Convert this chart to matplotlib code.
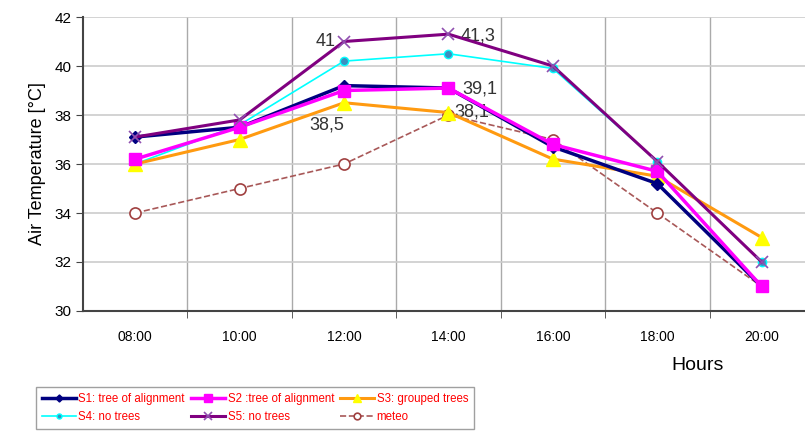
import numpy as np
import matplotlib
matplotlib.use("Agg")
import matplotlib.pyplot as plt

plt.rcParams['font.family'] = ['Liberation Sans', 'DejaVu Sans']

hours = ["08:00", "10:00", "12:00", "14:00", "16:00", "18:00", "20:00"]
s1 = [37.1, 37.5, 39.2, 39.1, 36.7, 35.2, 31.0]
s2 = [36.2, 37.5, 39.0, 39.1, 36.8, 35.7, 31.0]
s3 = [36.0, 37.0, 38.5, 38.1, 36.2, 35.5, 33.0]
s4 = [36.0, 37.6, 40.2, 40.5, 39.9, 36.1, 32.0]
s5 = [37.1, 37.8, 41.0, 41.3, 40.0, 36.1, 32.0]
meteo = [34.0, 35.0, 36.0, 38.0, 37.0, 34.0, 31.0]

x = np.arange(len(hours))

fig = plt.figure(figsize=(8.05, 4.36), dpi=100)
ax = fig.add_axes([0.1031, 0.2867, 0.908, 0.6743])

ax.plot(x, meteo, color='#a85858', ls='--', lw=1.2, marker='o', ms=8,
        mfc='white', mec='#a04040', mew=1.2, label='meteo', zorder=2)
ax.plot(x, s4, color='cyan', lw=1.2, marker='o', ms=6,
        mfc='#3a8fc0', mec='cyan', label='S4: no trees', zorder=3)
ax.plot(x, s3, color='#ff9a10', lw=2.2, marker='^', ms=10,
        mfc='yellow', mec='yellow', label='S3: grouped trees', zorder=4)
ax.plot(x, s1, color='#000080', lw=2.5, marker='D', ms=6,
        mfc='#000080', mec='#000080', label='S1: tree of alignment', zorder=5)
ax.plot(x, s2, color='magenta', lw=2.5, marker='s', ms=9,
        mfc='magenta', mec='magenta', label='S2 :tree of alignment', zorder=6)
ax.plot(x, s5, color='#800080', lw=2.2, marker='x', ms=9, mew=1.2,
        mec='#9050b0', label='S5: no trees', zorder=7)

# value labels
ax.annotate("41", (2, s5[2]), xytext=(-6, 0), textcoords='offset points',
            ha='right', va='center', fontsize=13, color='#333333')
ax.annotate("41,3", (3, s5[3]), xytext=(9, -1), textcoords='offset points',
            ha='left', va='center', fontsize=13, color='#333333')
ax.annotate("39,1", (3, s2[3]), xytext=(10, -1), textcoords='offset points',
            ha='left', va='center', fontsize=13, color='#333333')
ax.annotate("38,1", (3, meteo[3]), xytext=(4, 2), textcoords='offset points',
            ha='left', va='center', fontsize=13, color='#333333')
ax.annotate("38,5", (2, s3[2]), xytext=(0, -16), textcoords='offset points',
            ha='right', va='center', fontsize=13, color='#333333')

ax.set_xlim(-0.5, len(hours) - 0.5)
ax.set_ylim(30, 42)
ax.set_yticks(np.arange(30, 43, 2))
ax.set_xticks(x)
ax.set_xticklabels(hours, fontsize=10)
ax.set_xticks(np.arange(0.5, len(hours) - 0.5, 1), minor=True)
ax.tick_params(axis='x', which='major', length=0, pad=14)
ax.tick_params(axis='x', which='minor', length=5, color='#444444')
ax.tick_params(axis='y', labelsize=11, length=5, color='#444444')
ax.grid(axis='y', color='#cccccc', lw=1.2)
ax.grid(axis='x', which='minor', color='#aaaaaa', lw=1)
for side in ['top', 'right']:
    ax.spines[side].set_visible(False)
ax.spines['left'].set_color('#444444')
ax.spines['bottom'].set_color('#444444')
ax.spines['left'].set_linewidth(1.5)
ax.spines['bottom'].set_linewidth(1.5)

ax.set_ylabel("Air Temperature [°C]", fontsize=13, labelpad=6)
fig.text(698 / 805, 1 - 366 / 436, "Hours", fontsize=14, ha='center', va='center')

handles, labels = ax.get_legend_handles_labels()
order = ['S1: tree of alignment', 'S4: no trees', 'S2 :tree of alignment',
         'S5: no trees', 'S3: grouped trees', 'meteo']
hmap = dict(zip(labels, handles))
leg = fig.legend([hmap[k] for k in order], order, ncol=3,
                 loc='lower left', bbox_to_anchor=(30 / 805, 1 / 436),
                 fontsize=8.3, frameon=True, fancybox=False,
                 edgecolor='#888888', borderpad=0.5, labelspacing=0.6,
                 handlelength=3.0, handletextpad=0.2, columnspacing=0.5,
                 markerscale=0.6)
for t in leg.get_texts():
    t.set_color('red')

fig.savefig("out.png", dpi=100)
